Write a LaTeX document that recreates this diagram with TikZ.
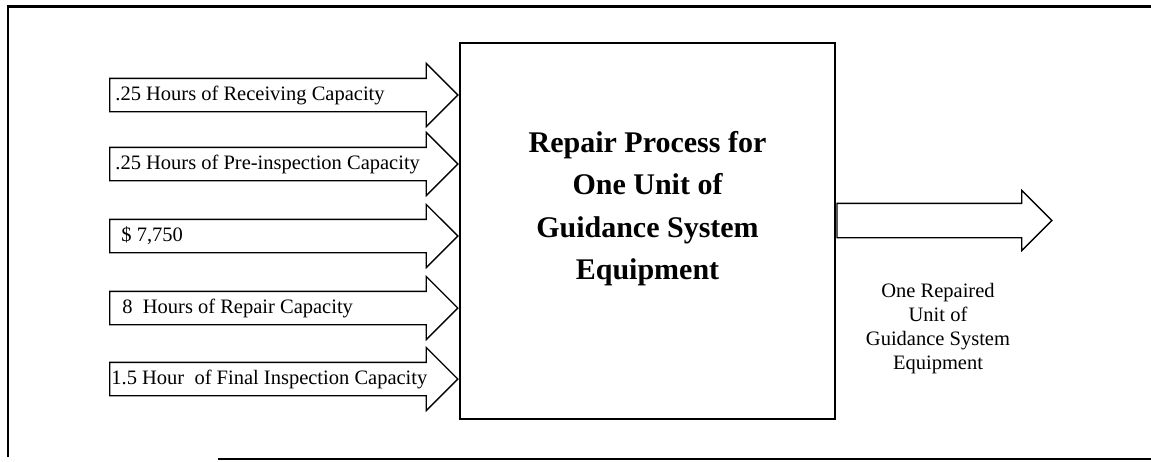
\documentclass[tikz,border=0pt]{standalone}
\usepackage{fontspec}
\setmainfont{Liberation Serif}
\usetikzlibrary{shapes.arrows}

\begin{document}
\begin{tikzpicture}[
        x=1pt, y=-1pt,
        frame/.style={line width=2.5pt},
        procbox/.style={draw, line width=2.5pt, minimum width=375pt, minimum height=376pt, inner sep=0pt},
        ptitle/.style={align=center, inner sep=0pt, font=\bfseries\fontsize{30}{42.5}\selectfont},
        inarrow/.style={single arrow, draw, line width=1.3pt, minimum height=348pt,
          minimum width=1pt, inner xsep=0pt, inner ysep=16pt, single arrow head extend=15pt,
          single arrow tip angle=90, anchor=tip},
        outarrow/.style={single arrow, draw, line width=1.3pt, minimum height=215pt,
          minimum width=1pt, inner xsep=0pt, inner ysep=16.5pt, single arrow head extend=13pt,
          single arrow tip angle=90, anchor=tail},
        inlabel/.style={anchor=west, inner sep=0pt, font=\fontsize{20.5}{24}\selectfont},
        outlabel/.style={align=center, inner sep=0pt, font=\fontsize{20.5}{24}\selectfont}
      ]

      \useasboundingbox (0,0) rectangle (1151,461);

      % outer frame
      \draw[frame] (1151,6.5) -- (8,6.5) -- (8,457);
      \draw[frame] (218,459) -- (1151,459);

      % the process
      \node[procbox] (proc) at (647.5,231) {};
      \node[ptitle] (title) at ([yshift=22.5pt]proc.center)
        {Repair Process for\\One Unit of\\Guidance System\\Equipment};

      % inputs
      \foreach \y/\dx/\txt [count=\i] in {
          95/6/{.25 Hours of Receiving Capacity},
          164/6/{.25 Hours of Pre-inspection Capacity},
          236/12/{\$ 7,750},
          308/13/{8~ Hours of Repair Capacity},
          379/2/{1.5 Hour~ of Final Inspection Capacity}} {
        \node[inarrow] (in\i) at (proc.west |- 0,\y) {};
        \node[inlabel] (lab\i) at ([xshift=\dx pt]in\i.tail) {\txt};
      }

      % output
      \node[outarrow] (out) at ([yshift=10.5pt]proc.east) {};
      \node[outlabel] (result) at (938,329)
        {One Repaired\\Unit of\\Guidance System\\Equipment};

    \end{tikzpicture}
\end{document}
